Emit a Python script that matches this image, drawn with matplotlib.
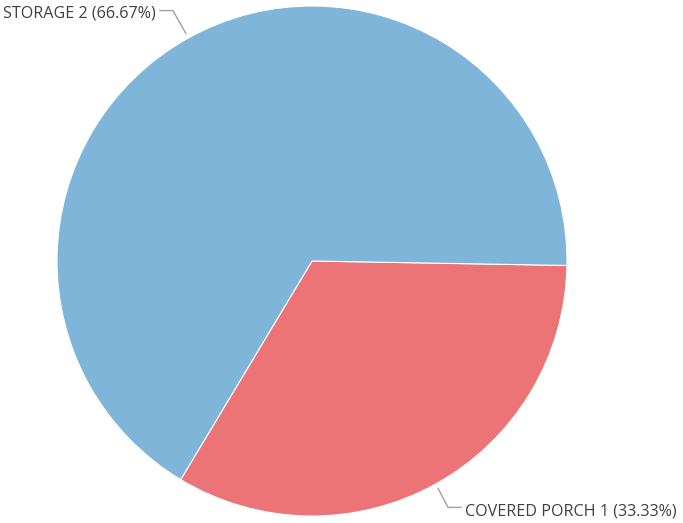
import numpy as np
import matplotlib.pyplot as plt

# room counts
labels = ['COVERED PORCH 1', 'STORAGE 2']
counts = [1, 2]
colors = ['#ED7476', '#7EB5D8']

W, H = 683, 523
fig = plt.figure(figsize=(W / 100, H / 100), dpi=100)
ax = fig.add_axes([0, 0, 1, 1])

cx, cy, r = 312, H - 261, 255
wedges, _ = ax.pie(counts, colors=colors, startangle=-1, counterclock=False,
                   center=(cx, cy), radius=r, frame=True,
                   wedgeprops=dict(edgecolor='white', linewidth=0.8))
ax.set_xlim(0, W)
ax.set_ylim(0, H)
ax.axis('off')

total = sum(counts)
for w, lab, c in zip(wedges, labels, counts):
    mid = np.deg2rad((w.theta1 + w.theta2) / 2)
    x0 = cx + (r + 5) * np.cos(mid)
    y0 = cy + (r + 5) * np.sin(mid)
    txt = f'{lab} ({100 * c / total:.2f}%)'
    if np.cos(mid) < 0:
        x1, y1 = x0 - 13, y0 + 23
        x2 = x1 - 13
        ax.plot([x0, x1, x2], [y0, y1, y1], color='#a0a0a0', lw=1.0)
        ax.text(x2 - 4, y1 - 3, txt, ha='right', va='center',
                fontsize=11.6, family='Open Sans', color='#404040')
    else:
        x1, y1 = x0 + 10, y0 - 19
        x2 = x1 + 13
        ax.plot([x0, x1, x2], [y0, y1, y1], color='#a0a0a0', lw=1.0)
        ax.text(x2 + 4, y1 - 4, txt, ha='left', va='center',
                fontsize=11.6, family='Open Sans', color='#404040')

fig.savefig('out.png', dpi=100)
